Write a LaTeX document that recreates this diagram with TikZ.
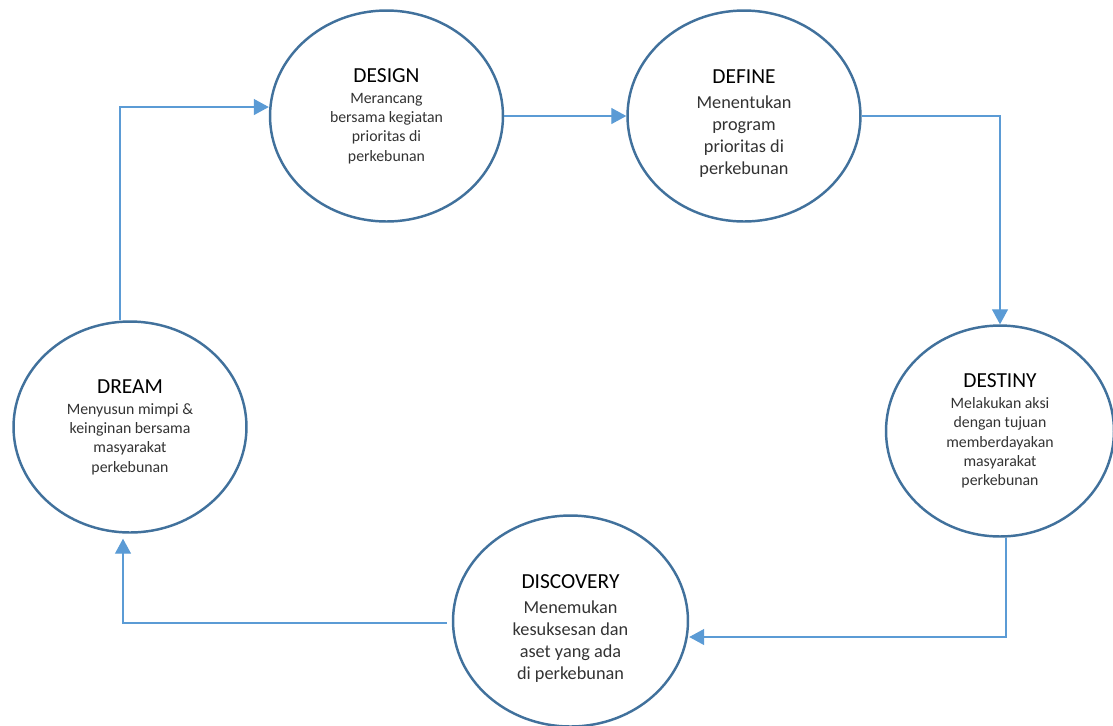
\documentclass[tikz,border=0pt]{standalone}
\usepackage{fontspec}
\setmainfont{Carlito}
\usetikzlibrary{shapes.geometric, arrows.meta}
\definecolor{ringblue}{HTML}{41719C}
\definecolor{lineblue}{HTML}{5B9BD5}
\newcommand\phasename[1]{{\fontsize{12.2}{14}\selectfont\color{black}#1}}

\begin{document}
\begin{tikzpicture}[x=0.02cm, y=-0.02cm,
	stage/.style = {draw=ringblue, line width=1.4pt, ellipse, minimum width=4.66cm, minimum height=4.22cm, inner sep=0pt, align=center, text=black!80},
	small/.style = {font=\fontsize{9}{11}\selectfont},
	large/.style = {font=\fontsize{10.4}{12.7}\selectfont},
	flow/.style = {draw=lineblue, line width=0.75pt, -{Triangle[length=0.3cm, width=0.32cm]}}]
	\useasboundingbox (0,0) rectangle (1113,725);
	\node[stage, small] (design) at (386.5,116) {\phasename{DESIGN}\\[1pt]Merancang\\bersama kegiatan\\prioritas di\\perkebunan};
	% strut on the title line sets the larger text a bit lower
	\node[stage, large] (define) at (744,116) {\rule{0pt}{17pt}\phasename{DEFINE}\\[1pt]Menentukan\\program\\prioritas di\\perkebunan};
	\node[stage, small, minimum width=4.56cm] (destiny) at (1000,431) {\phasename{DESTINY}\\[1pt]Melakukan aksi\\dengan tujuan\\memberdayakan\\masyarakat\\perkebunan};
	\node[stage, large, minimum width=4.7cm] (discovery) at (570.5,621) {\rule{0pt}{17pt}\phasename{DISCOVERY}\\[1pt]Menemukan\\kesuksesan dan\\aset yang ada\\di perkebunan};
	\node[stage, small] (dream) at (130,427) {\phasename{DREAM}\\[1pt]Menyusun mimpi \&\\keinginan bersama\\masyarakat\\perkebunan};
	% the cycle
	\draw[flow] ([xshift=-0.2cm]dream.north) |- ([yshift=0.18cm]design.west);
	\draw[flow] (design.east) -- (define.west);
	\draw[flow] (define.east) -| (destiny.north);
	\draw[flow] ([xshift=0.12cm]destiny.south) |- ([yshift=-0.32cm]discovery.east);
	\draw[flow] ([xshift=-0.1cm, yshift=-0.04cm]discovery.west) -| ([xshift=-0.14cm, yshift=-0.1cm]dream.south);
\end{tikzpicture}
\end{document}
